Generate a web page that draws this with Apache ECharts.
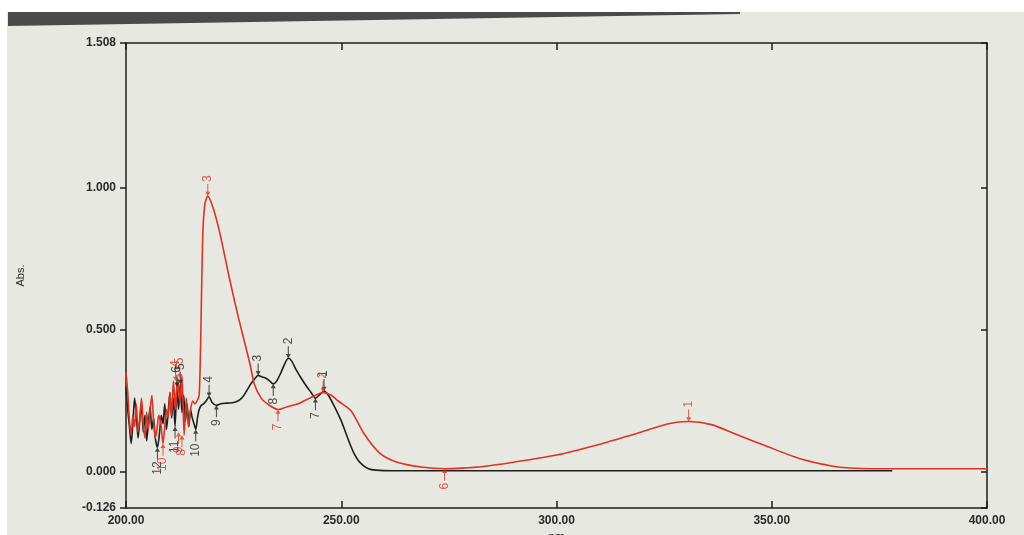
<!DOCTYPE html>
<html><head><meta charset="utf-8">
<script src="https://cdn.jsdelivr.net/npm/echarts@6/dist/echarts.min.js"></script>
<style>html,body{margin:0;padding:0;background:#fff}#c{width:1024px;height:535px}</style>
</head><body><div id="c"></div>
<script>
// ---- data ----
var blackNm = [200,200.4,200.8,201.2,201.6,202,202.4,202.8,203.2,203.6,204,204.4,204.8,205.2,205.6,206,206.4,206.8,207.3,207.8,208.2,208.6,209,209.4,209.8,210.2,210.6,211,211.4,211.8,212.2,212.6,213,213.4,213.8,214.2,214.6,215,215.4,215.8,216.2,216.6,217,217.5,218,218.6,219.3,220,221,222,223,224,225,226,227,228,229,230,230.7,231.5,232.5,233.4,234.2,235,236,237,237.7,238.5,239.5,240.7,242,243,244,245,246,247,248.6,250,251,252,253,254,255,256.3,258,262,270,300,340,378];
var blackAbs = [0.30,0.22,0.16,0.10,0.17,0.26,0.20,0.12,0.18,0.24,0.14,0.20,0.11,0.17,0.23,0.15,0.19,0.12,0.087,0.14,0.20,0.17,0.24,0.15,0.21,0.28,0.19,0.26,0.16,0.30,0.22,0.31,0.21,0.27,0.18,0.24,0.16,0.22,0.19,0.17,0.15,0.19,0.22,0.235,0.24,0.25,0.265,0.245,0.235,0.24,0.242,0.243,0.245,0.25,0.262,0.285,0.31,0.33,0.34,0.335,0.33,0.32,0.31,0.32,0.35,0.385,0.40,0.39,0.36,0.33,0.30,0.28,0.26,0.272,0.285,0.27,0.225,0.18,0.14,0.10,0.065,0.04,0.025,0.012,0.007,0.005,0.005,0.005,0.005,0.005];
var redNm = [200,200.4,200.8,201.2,201.6,202,202.4,202.8,203.2,203.6,204,204.4,204.8,205.2,205.6,206,206.4,206.8,207.2,207.6,208.1,208.6,209,209.4,209.8,210.2,210.6,211,211.5,212,212.5,213,213.5,214,214.5,215,215.5,216,216.5,217,217.4,217.8,218.3,219,220.2,221.8,223.9,226,228.8,229.8,231.4,233.3,235.3,237.5,240,242,244,245.8,247.7,249.3,252.3,255.3,259,263,269,274,278,283,290,300,310.5,318,326,330.7,336,341.4,349,357,364.6,371,380,390,400];
var redAbs = [0.35,0.28,0.18,0.13,0.20,0.16,0.24,0.14,0.19,0.26,0.17,0.12,0.21,0.15,0.22,0.27,0.18,0.12,0.15,0.20,0.17,0.10,0.16,0.22,0.19,0.28,0.20,0.32,0.22,0.33,0.25,0.34,0.13,0.26,0.16,0.22,0.25,0.24,0.25,0.27,0.50,0.82,0.94,0.97,0.93,0.84,0.69,0.55,0.38,0.31,0.26,0.235,0.22,0.23,0.24,0.255,0.27,0.28,0.27,0.25,0.215,0.135,0.066,0.035,0.017,0.012,0.014,0.02,0.035,0.06,0.10,0.133,0.17,0.178,0.167,0.135,0.09,0.045,0.02,0.013,0.012,0.012,0.012];
// peak / valley markers: [nm, abs, label]
var blackPeaks = [[246,0.285,'1'],[237.7,0.40,'2'],[230.7,0.34,'3'],[219.3,0.265,'4'],[212.6,0.31,'5'],[211.8,0.30,'6']];
var blackValleys = [[244,0.26,'7'],[234.2,0.31,'8'],[221,0.235,'9'],[216.2,0.15,'10'],[211.4,0.16,'11'],[207.3,0.087,'12']];
var redPeaks = [[330.7,0.178,'1'],[245.8,0.28,'2'],[219,0.97,'3'],[211.5,0.32,'4'],[212.5,0.33,'5']];
var redValleys = [[274,0.012,'6'],[235.3,0.22,'7'],[213,0.13,'8'],[212.2,0.14,'9'],[208.6,0.10,'10']];
var yTicks = [-0.126, 0, 0.5, 1.0, 1.508];
var xMin = 200, xMax = 400, xStep = 50;

// ---- build ----
function pairs(a,b){return a.map(function(v,i){return [v,b[i]];});}
var BLACK = '#1e1e1e', RED = '#e0331f';
var arrow = 'path://M2,0 L3,0 L3,9 L5,9 L2.5,14 L0,9 L2,9 Z';
function markerSeries(data,color,peak){
  return {
    type:'scatter', data:data.map(function(d){return {value:[d[0],d[1]],name:d[2]};}),
    symbol:arrow, symbolSize:[5,12], symbolRotate: peak?0:180,
    symbolOffset:[0, peak?-6:6], itemStyle:{color:color}, z:5,
    label:{show:true, formatter:'{b}', color:color, fontSize:12, fontFamily:'Liberation Sans',
      position: peak?'top':'bottom', distance:2, rotate:90,
      align: peak?'left':'right', verticalAlign:'middle'},
    emphasis:{disabled:true}
  };
}
var axisFont = {color:'#2a2a2a', fontSize:12, fontFamily:'Liberation Sans', fontWeight:'bold'};
var chart = echarts.init(document.getElementById('c'));
chart.setOption({
  backgroundColor:'#e7e8e2',
  animation:false,
  graphic:[
    {type:'rect', shape:{x:0,y:0,width:1024,height:12}, style:{fill:'#ffffff'}, z:-1},
    {type:'polygon', shape:{points:[[8,12],[740,12],[740,14],[8,26]]}, style:{fill:'#4a4a4a'}, z:-1},
    {type:'rect', shape:{x:0,y:0,width:7,height:535}, style:{fill:'#ffffff'}, z:-1}
  ],
  grid:{left:126, right:37, top:43, bottom:27, containLabel:false, outerBoundsMode:'none'},
  xAxis:[
    {type:'value', position:'bottom', min:xMin, max:xMax, interval:xStep,
     axisLine:{onZero:false, lineStyle:{color:BLACK,width:1.5}}, axisTick:{inside:true,length:7,lineStyle:{color:BLACK,width:1.5}},
     axisLabel:Object.assign({formatter:function(v){return v.toFixed(2);}, margin:7}, axisFont),
     splitLine:{show:false}, name:'nm', nameLocation:'middle', nameGap:23,
     nameTextStyle:{color:'#2a2a2a',fontSize:12,fontFamily:'Liberation Sans'}},
    {type:'value', position:'top', min:xMin, max:xMax, interval:xStep,
     axisLine:{onZero:false, lineStyle:{color:BLACK,width:1.5}}, axisTick:{inside:true,length:7,lineStyle:{color:BLACK,width:1.5}},
     axisLabel:{show:false}, splitLine:{show:false}}
  ],
  yAxis:[
    {type:'value', position:'left', min:-0.126, max:1.508,
     axisLine:{show:true,onZero:false,lineStyle:{color:BLACK,width:1.5}},
     axisTick:{show:true,length:6,customValues:yTicks,lineStyle:{color:BLACK,width:1.5}},
     axisLabel:Object.assign({customValues:yTicks, formatter:function(v){return v.toFixed(3);}, margin:10}, axisFont),
     splitLine:{show:false}, name:'Abs.', nameLocation:'middle', nameGap:100, nameRotate:90,
     nameTextStyle:{color:'#2a2a2a',fontSize:11,fontFamily:'Liberation Sans'}},
    {type:'value', position:'right', min:-0.126, max:1.508,
     axisLine:{show:true,onZero:false,lineStyle:{color:BLACK,width:1.5}},
     axisTick:{show:true,inside:true,length:6,customValues:yTicks,lineStyle:{color:BLACK,width:1.5}},
     axisLabel:{show:false}, splitLine:{show:false}}
  ],
  series:[
    {type:'line', data:pairs(redNm,redAbs), showSymbol:false, smooth:0.25, lineStyle:{color:RED,width:1.6}, z:3},
    {type:'line', data:pairs(blackNm,blackAbs), showSymbol:false, smooth:0.25, lineStyle:{color:BLACK,width:1.6}, z:2},
    markerSeries(blackPeaks,BLACK,true),
    markerSeries(blackValleys,BLACK,false),
    markerSeries(redPeaks,RED,true),
    markerSeries(redValleys,RED,false)
  ]
});
</script></body></html>
